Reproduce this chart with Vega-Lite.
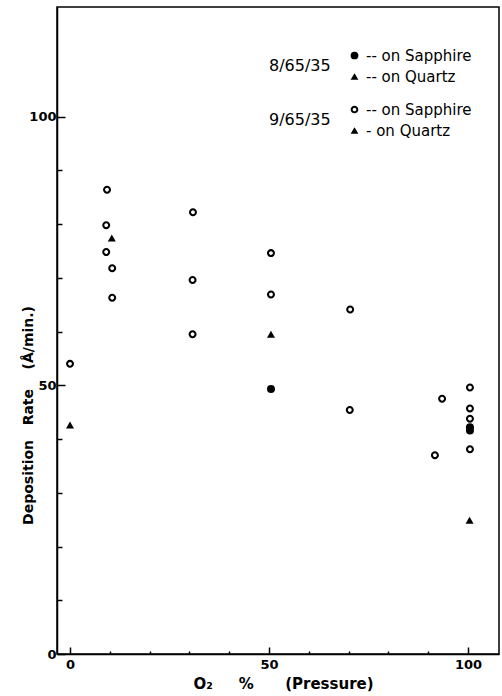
{
  "$schema": "https://vega.github.io/schema/vega-lite/v6.json",
  "width": 442,
  "height": 647,
  "autosize": {"type": "none"},
  "padding": {"left": 57, "top": 7, "right": 3, "bottom": 42},
  "background": "white",
  "config": {
    "view": {"stroke": "black", "strokeWidth": 1.5},
    "font": "DejaVu Sans",
    "axis": {"grid": false, "domainColor": "black", "domainWidth": 1.5, "tickColor": "black", "tickWidth": 1.5, "labelColor": "black", "titleColor": "black", "labelFont": "DejaVu Sans", "labelFontWeight": "bold", "labelFontSize": 13, "titleFont": "DejaVu Sans", "titleFontWeight": "bold", "titleFontSize": 14},
    "legend": {"labelFont": "DejaVu Sans", "labelFontSize": 15, "labelColor": "black", "titleFont": "DejaVu Sans", "titleFontSize": 16, "titleFontWeight": "normal", "titleColor": "black", "rowPadding": 5, "labelOffset": 4, "titlePadding": 16, "symbolFillColor": "black", "symbolStrokeColor": "black", "symbolStrokeWidth": 0, "symbolSize": 60}
  },
  "data": {
    "values": [
      {"O2": 0, "rate": 54.0, "film": "9/65/35", "substrate": "Sapphire"},
      {"O2": 0, "rate": 42.6, "film": "9/65/35", "substrate": "Quartz"},
      {"O2": 9.3, "rate": 86.4, "film": "9/65/35", "substrate": "Sapphire"},
      {"O2": 9.1, "rate": 79.8, "film": "9/65/35", "substrate": "Sapphire"},
      {"O2": 10.5, "rate": 77.4, "film": "9/65/35", "substrate": "Quartz"},
      {"O2": 9.1, "rate": 74.8, "film": "9/65/35", "substrate": "Sapphire"},
      {"O2": 10.6, "rate": 71.8, "film": "9/65/35", "substrate": "Sapphire"},
      {"O2": 10.6, "rate": 66.3, "film": "9/65/35", "substrate": "Sapphire"},
      {"O2": 30.9, "rate": 82.2, "film": "9/65/35", "substrate": "Sapphire"},
      {"O2": 30.8, "rate": 69.6, "film": "9/65/35", "substrate": "Sapphire"},
      {"O2": 30.8, "rate": 59.5, "film": "9/65/35", "substrate": "Sapphire"},
      {"O2": 50.5, "rate": 74.6, "film": "9/65/35", "substrate": "Sapphire"},
      {"O2": 50.5, "rate": 66.9, "film": "9/65/35", "substrate": "Sapphire"},
      {"O2": 50.5, "rate": 59.5, "film": "8/65/35", "substrate": "Quartz"},
      {"O2": 50.5, "rate": 49.3, "film": "8/65/35", "substrate": "Sapphire"},
      {"O2": 70.4, "rate": 64.1, "film": "9/65/35", "substrate": "Sapphire"},
      {"O2": 70.3, "rate": 45.4, "film": "9/65/35", "substrate": "Sapphire"},
      {"O2": 91.7, "rate": 37.0, "film": "9/65/35", "substrate": "Sapphire"},
      {"O2": 93.5, "rate": 47.5, "film": "9/65/35", "substrate": "Sapphire"},
      {"O2": 100.5, "rate": 49.6, "film": "9/65/35", "substrate": "Sapphire"},
      {"O2": 100.5, "rate": 45.7, "film": "9/65/35", "substrate": "Sapphire"},
      {"O2": 100.5, "rate": 43.8, "film": "9/65/35", "substrate": "Sapphire"},
      {"O2": 100.5, "rate": 42.2, "film": "8/65/35", "substrate": "Sapphire"},
      {"O2": 100.5, "rate": 41.6, "film": "8/65/35", "substrate": "Sapphire"},
      {"O2": 100.5, "rate": 38.1, "film": "9/65/35", "substrate": "Sapphire"},
      {"O2": 100.4, "rate": 24.9, "film": "8/65/35", "substrate": "Quartz"}
    ]
  },
  "encoding": {
    "x": {
      "field": "O2", "type": "quantitative",
      "scale": {"domain": [-3.27, 107.8], "nice": false, "zero": false},
      "axis": {
        "values": [0, 10, 20, 30, 40, 50, 60, 70, 80, 90, 100],
        "labelExpr": "datum.value % 50 === 0 ? datum.label : ''",
        "tickSize": {"condition": {"test": "datum.value % 50 === 0", "value": -7}, "value": -3},
        "labelPadding": 11,
        "title": "O₂\u00a0\u00a0\u00a0\u00a0\u00a0%\u00a0\u00a0\u00a0\u00a0\u00a0\u00a0(Pressure)",
        "titleFontSize": 15,
        "titleX": 226, "titleY": 29, "titleAlign": "center", "titleBaseline": "middle"
      }
    },
    "y": {
      "field": "rate", "type": "quantitative",
      "scale": {"domain": [0, 120.4], "nice": false},
      "axis": {
        "values": [0, 10, 20, 30, 40, 50, 60, 70, 80, 90, 100],
        "labelExpr": "datum.value % 50 === 0 ? datum.label : ''",
        "tickSize": {"condition": {"test": "datum.value % 50 === 0", "value": -8}, "value": -5},
        "labelPadding": 9,
        "title": "Deposition\u00a0\u00a0\u00a0Rate\u00a0\u00a0\u00a0\u00a0(Å/min.)",
        "titleAngle": -90, "titleX": -29, "titleY": 408, "titleAlign": "center", "titleBaseline": "middle"
      }
    }
  },
  "layer": [
    {
      "transform": [{"filter": "datum.film === '8/65/35'"}],
      "mark": {"type": "point", "filled": true, "fill": "black", "strokeWidth": 0, "opacity": 1},
      "encoding": {
        "shape": {
          "field": "substrate", "type": "nominal",
          "scale": {"domain": ["Sapphire", "Quartz"], "range": ["circle", "triangle-up"]},
          "legend": {
            "orient": "none", "legendX": 212, "legendY": 41,
            "title": "8/65/35", "titleOrient": "left",
            "labelExpr": "datum.label === 'Sapphire' ? '-- on Sapphire' : '-- on Quartz'"
          }
        },
        "size": {"value": 64}
      }
    },
    {
      "transform": [{"filter": "datum.film === '9/65/35'"}],
      "mark": {"type": "point", "filled": true, "fill": "black", "strokeWidth": 0, "opacity": 1},
      "encoding": {
        "shape": {
          "field": "substrate", "type": "nominal",
          "scale": {"domain": ["Sapphire", "Quartz"], "range": ["M1,0A1,1,0,1,1,-1,0A1,1,0,1,1,1,0Z M0.48,0A0.48,0.48,0,1,0,-0.48,0A0.48,0.48,0,1,0,0.48,0Z", "triangle-up"]},
          "legend": {
            "orient": "none", "legendX": 212, "legendY": 95,
            "title": "9/65/35", "titleOrient": "left",
            "labelExpr": "datum.label === 'Sapphire' ? '-- on Sapphire' : '- on Quartz'"
          }
        },
        "size": {"value": 64}
      }
    }
  ],
  "resolve": {"scale": {"shape": "independent"}, "legend": {"shape": "independent"}}
}
